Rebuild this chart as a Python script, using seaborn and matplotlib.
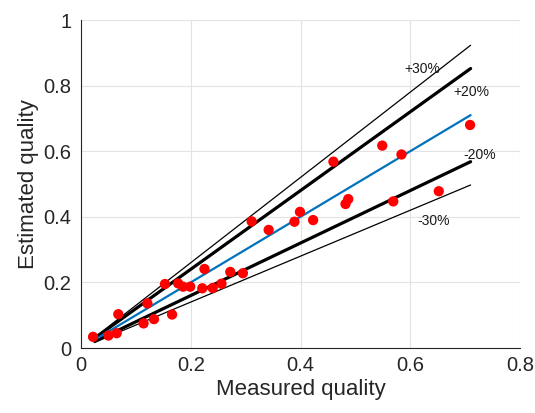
import matplotlib
matplotlib.use("Agg")
import matplotlib.pyplot as plt
import seaborn as sns
import numpy as np
import pandas as pd

# ---- data ----
measured = [0.022, 0.050, 0.065, 0.068, 0.114, 0.121, 0.133, 0.153, 0.166, 0.177,
            0.186, 0.199, 0.221, 0.225, 0.240, 0.256, 0.272, 0.295, 0.311, 0.342,
            0.389, 0.399, 0.423, 0.460, 0.482, 0.487, 0.549, 0.569, 0.584, 0.652,
            0.709]
estimated = [0.034, 0.038, 0.045, 0.103, 0.075, 0.136, 0.088, 0.195, 0.102, 0.197,
             0.187, 0.187, 0.182, 0.241, 0.183, 0.196, 0.232, 0.228, 0.386, 0.360,
             0.385, 0.415, 0.390, 0.568, 0.439, 0.454, 0.617, 0.447, 0.590, 0.478,
             0.680]
line_x = [0.025, 0.71]
bound_factors = [1.3, 1.2, 0.8, 0.7]
bound_labels = ["+30%", "+20%", "-20%", "-30%"]
x_ticks = [0, 0.2, 0.4, 0.6, 0.8]
x_tick_labels = ["0", "0.2", "0.4", "0.6", "0.8"]
y_ticks = [0, 0.2, 0.4, 0.6, 0.8, 1.0]
y_tick_labels = ["0", "0.2", "0.4", "0.6", "0.8", "1"]

sns.set_style("whitegrid")
plt.rcParams['font.family'] = ['Liberation Sans', 'DejaVu Sans']

fig = plt.figure(figsize=(5.35, 4.13), dpi=100)
ax = fig.add_axes([81/535, 65/413, 439/535, 328/413])

axis_col = "#262626"
# bound lines
bound_styles = {1.3: 0.9, 1.2: 2.3, 0.8: 2.3, 0.7: 0.9}
for f in bound_factors:
    d = pd.DataFrame({"x": line_x, "y": [v * f for v in line_x]})
    sns.lineplot(data=d, x="x", y="y", ax=ax, color="black",
                 linewidth=bound_styles[f], zorder=3)
# 1:1 line
d1 = pd.DataFrame({"x": line_x, "y": line_x})
sns.lineplot(data=d1, x="x", y="y", ax=ax, color="#0072BD", linewidth=1.6, zorder=4)

# points
pts = pd.DataFrame({"m": measured, "e": estimated})
sns.scatterplot(data=pts, x="m", y="e", ax=ax, color="#FF0000", s=55,
                edgecolor="none", zorder=5)

# labels on bounds
label_pos = {"+30%": (0.590, 0.850), "+20%": (0.678, 0.780),
             "-20%": (0.697, 0.588), "-30%": (0.613, 0.388)}
for lab in bound_labels:
    x, y = label_pos[lab]
    ax.text(x, y, lab, fontsize=10, color="#1a1a1a", ha="left", va="center", zorder=6)

ax.set_xlim(0, 0.8)
ax.set_ylim(0, 1)
ax.set_xticks(x_ticks)
ax.set_xticklabels(x_tick_labels)
ax.set_yticks(y_ticks)
ax.set_yticklabels(y_tick_labels)
ax.set_xlabel("Measured quality", fontsize=16, color=axis_col, labelpad=3)
ax.set_ylabel("Estimated quality", fontsize=16, color=axis_col, labelpad=3)

ax.grid(True, color="#e3e3e3", linewidth=0.8)
ax.set_axisbelow(True)
for side in ["top", "right"]:
    ax.spines[side].set_visible(False)
for side in ["left", "bottom"]:
    ax.spines[side].set_visible(True)
    ax.spines[side].set_color(axis_col)
    ax.spines[side].set_linewidth(0.8)
ax.tick_params(axis="both", direction="in", length=4, width=0.8, color=axis_col,
               labelsize=14.5, labelcolor=axis_col, pad=7)
ax.tick_params(axis="x", pad=6)

fig.savefig("out.png", dpi=100)
